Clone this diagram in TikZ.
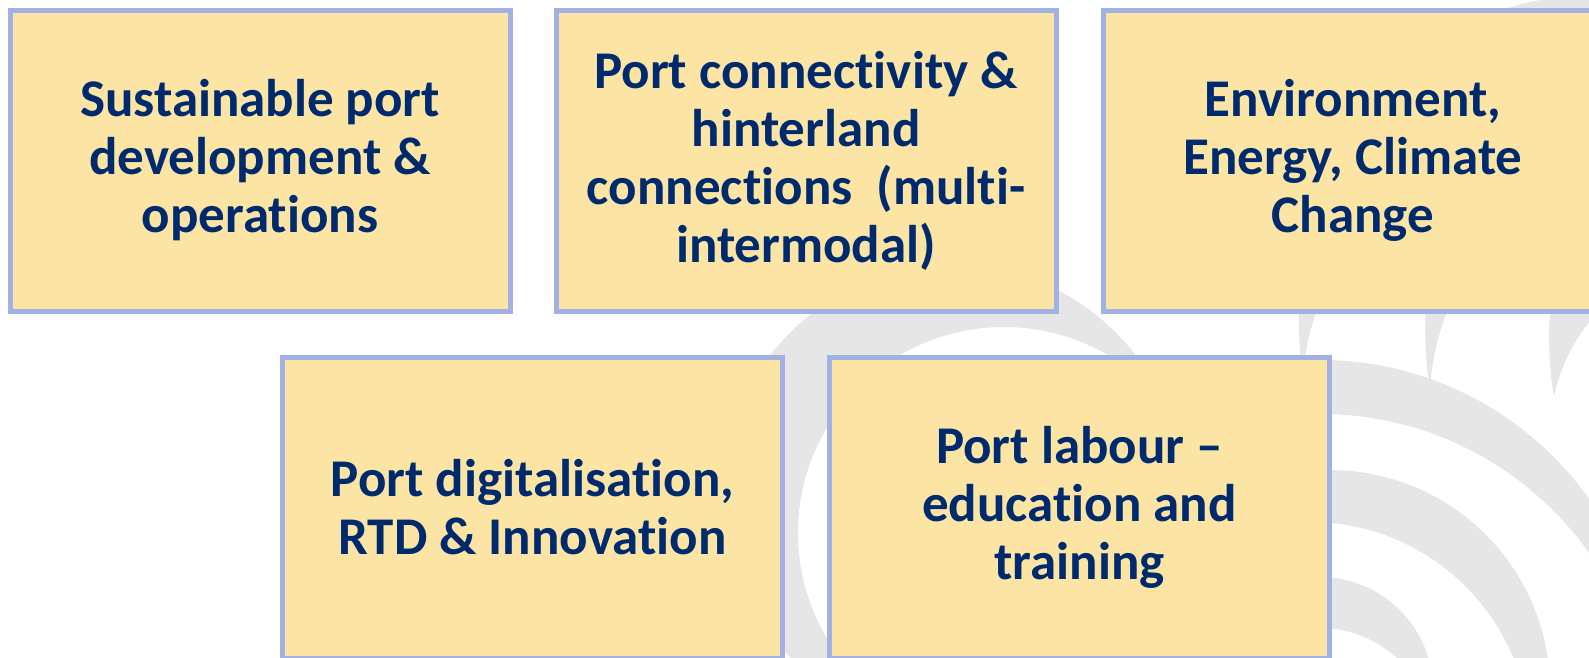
\documentclass[tikz,border=0pt]{standalone}
\usepackage{fontspec}
\setmainfont[Ligatures={TeX,NoCommon}]{Carlito}
\usepackage{xcolor}
\usepackage{tikz}
\usetikzlibrary{positioning}

\definecolor{boxfill}{HTML}{FCE4A4}
\definecolor{boxline}{HTML}{A2B1E3}
\definecolor{topictext}{HTML}{002A6E}
\definecolor{arcgrey}{HTML}{E6E6E6}

\begin{document}
\begin{tikzpicture}[x=1pt,y=-1pt]
						\tikzstyle{topic}=[rectangle,draw=boxline,line width=5pt,fill=boxfill,minimum width=500pt,minimum height=301pt,inner sep=0pt,text=topictext,align=center,font=\bfseries\fontsize{53}{58}\selectfont]
						\useasboundingbox (0,0) rectangle (1589,657);
						\clip (0,0) rectangle (1589,657);
						\fill[arcgrey,even odd rule] (953,495) circle[radius=230] (1004,533) circle[radius=206];
						\fill[arcgrey,even odd rule] (1320,690) circle[radius=330] (1320,744) circle[radius=330];
						\fill[arcgrey,even odd rule] (1330,690) circle[radius=220] (1310,742) circle[radius=220];
						\fill[arcgrey,even odd rule] (1320,690) circle[radius=113] (1320,741) circle[radius=113];
						\fill[arcgrey] (1299,300) .. controls (1298,330) and (1300,360) .. (1303,372) .. controls (1307,340) and (1312,320) .. (1322,300) -- cycle;
						\fill[arcgrey] (1426,300) .. controls (1424,340) and (1426,370) .. (1430,384) .. controls (1434,350) and (1440,325) .. (1453,300) -- cycle;
						\fill[arcgrey] (1551,300) .. controls (1547,340) and (1550,375) .. (1554,396) .. controls (1562,360) and (1580,330) .. (1600,310) -- (1600,300) -- cycle;
						\fill[arcgrey] (1490,14) .. controls (1515,5) and (1535,0) .. (1555,-2) -- (1595,-2) -- (1595,14) -- cycle;
						\node[topic](b1) at (260,160.5) {Sustainable port\\ development \&\\ operations};
						\node[topic](b2) at (806,161) {Port connectivity \&\\ hinterland\\ connections~ (multi-\\ intermodal)};
						\node[topic](b3) at (1353,160.5) {Environment,\\ Energy, Climate\\ Change};
						\node[topic](b4) at (532.5,507.5) {Port digitalisation,\\ RTD \& Innovation};
						\node[topic](b5) at (1079.5,507.5) {Port labour --\\ education and\\ training};
					\end{tikzpicture}
\end{document}
